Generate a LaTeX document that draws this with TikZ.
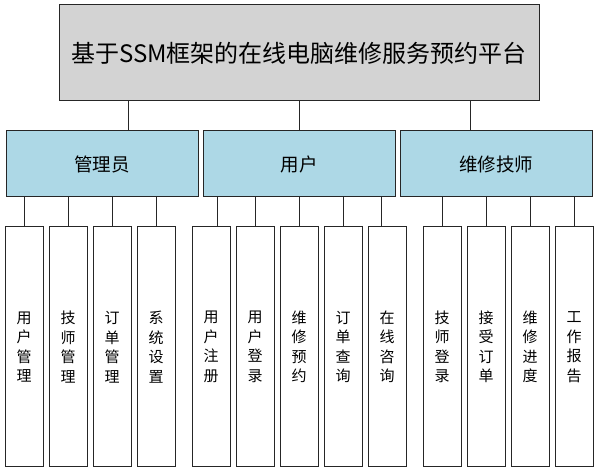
\documentclass[tikz,border=0pt]{standalone}
\usepackage{fontspec}
\setmainfont{Noto Sans CJK SC}
\usepackage{tikz}
\usetikzlibrary{positioning}
\definecolor{rootgray}{HTML}{D3D3D3}
\definecolor{roleblue}{HTML}{ADD8E6}

\begin{document}
\begin{tikzpicture}[x=1pt, y=-1pt, line width=1pt,
  root/.style={rectangle, draw=black!85, fill=rootgray, minimum width=480pt, minimum height=96pt, font=\fontsize{24}{28}\selectfont},
  role/.style={rectangle, draw=black!85, fill=roleblue, minimum width=192pt, minimum height=66pt, font=\fontsize{18.5}{22}\selectfont},
  leaf/.style={rectangle, draw=black!85, fill=white, minimum width=38pt, minimum height=240pt, align=center, inner sep=0pt, font=\fontsize{15}{19.5}\selectfont},
  link/.style={draw=black!85}]

\useasboundingbox (0,0) rectangle (598,473);

% Nivel superior
\node[root] (top) at (299,53) {基于SSM框架的在线电脑维修服务预约平台};

% Roles
\node[role] (adm) at (102,164) {管理员};
\node[role] (usr) at (299,164) {用户};
\node[role] (tec) at (496,164) {维修技师};

% Funciones del administrador
\node[leaf] (a1) at (24,347) {用\\户\\管\\理};
\node[leaf] (a2) at (68,347) {技\\师\\管\\理};
\node[leaf] (a3) at (112,347) {订\\单\\管\\理};
\node[leaf] (a4) at (156,347) {系\\统\\设\\置};

% Funciones del usuario
\node[leaf] (u1) at (211,347) {用\\户\\注\\册};
\node[leaf] (u2) at (255,347) {用\\户\\登\\录};
\node[leaf] (u3) at (299,347) {维\\修\\预\\约};
\node[leaf] (u4) at (343,347) {订\\单\\查\\询};
\node[leaf] (u5) at (387,347) {在\\线\\咨\\询};

% Funciones del técnico
\node[leaf] (t1) at (442,347) {技\\师\\登\\录};
\node[leaf] (t2) at (486,347) {接\\受\\订\\单};
\node[leaf] (t3) at (530,347) {维\\修\\进\\度};
\node[leaf] (t4) at (574,347) {工\\作\\报\\告};

% Líneas desde el nivel superior
\draw[link] ([xshift=26pt]adm.north) -- ([xshift=26pt]adm.north |- top.south);
\draw[link] (usr.north) -- (usr.north |- top.south);
\draw[link] ([xshift=-26pt]tec.north) -- ([xshift=-26pt]tec.north |- top.south);

% Líneas hacia las funciones
\draw[link] (a1.north) -- (a1.north |- adm.south);
\draw[link] (a2.north) -- (a2.north |- adm.south);
\draw[link] (a3.north) -- (a3.north |- adm.south);
\draw[link] (a4.north) -- (a4.north |- adm.south);

\draw[link] ([xshift=6pt]u1.north) -- ([xshift=6pt]u1.north |- usr.south);
\draw[link] (u2.north) -- (u2.north |- usr.south);
\draw[link] (u3.north) -- (u3.north |- usr.south);
\draw[link] (u4.north) -- (u4.north |- usr.south);
\draw[link] ([xshift=-5.5pt]u5.north) -- ([xshift=-5.5pt]u5.north |- usr.south);

\draw[link] (t1.north) -- (t1.north |- tec.south);
\draw[link] (t2.north) -- (t2.north |- tec.south);
\draw[link] (t3.north) -- (t3.north |- tec.south);
\draw[link] (t4.north) -- (t4.north |- tec.south);

\end{tikzpicture}
\end{document}
